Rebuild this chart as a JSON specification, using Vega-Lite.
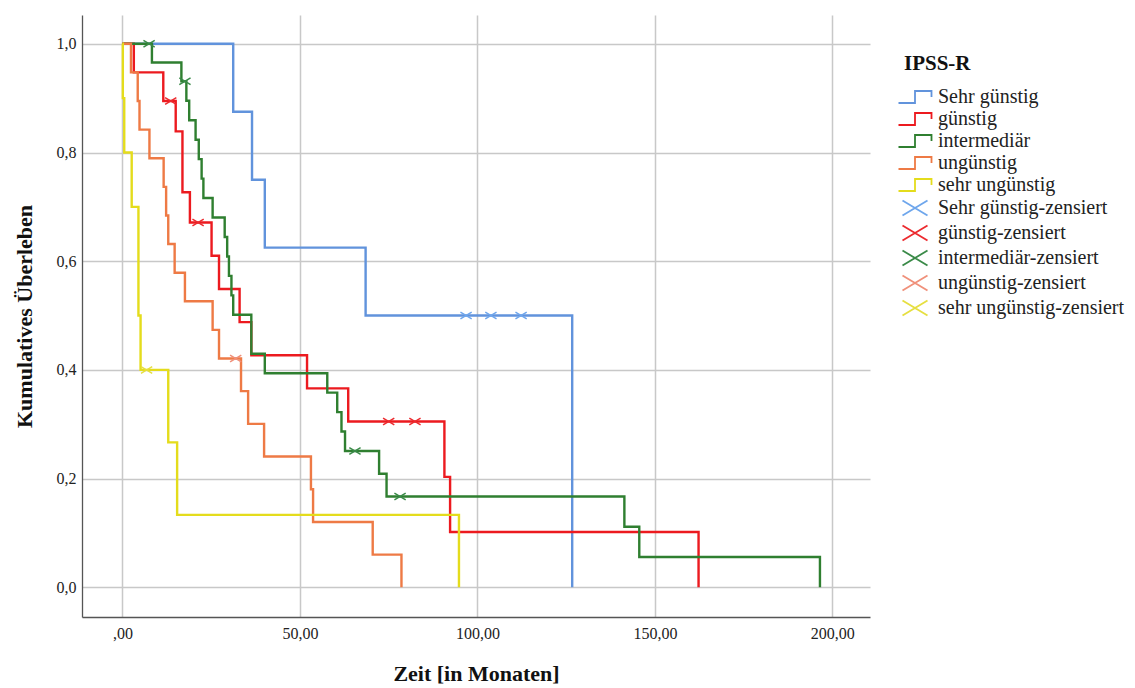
{
  "$schema": "https://vega.github.io/schema/vega-lite/v6.json",
  "width": 788,
  "height": 602,
  "autosize": {"type": "none"},
  "padding": {"left": 82, "top": 15, "right": 265, "bottom": 71},
  "background": "white",
  "config": {
    "view": {"stroke": null},
    "font": "Liberation Serif",
    "legend": {
      "orient": "none", "legendX": 822, "legendY": 38,
      "titleFont": "Liberation Serif", "titleFontSize": 21, "titleFontWeight": "bold", "titleColor": "#111", "titlePadding": 12,
      "labelFont": "Liberation Serif", "labelFontSize": 20, "labelColor": "#222", "labelOffset": 12,
      "symbolSize": 400, "symbolStrokeWidth": 1.8, "rowPadding": 1, "labelLimit": 300
    }
  },
  "datasets": {
    "curves": [
      {"label": "Sehr günstig", "t": 0, "s": 1},
      {"label": "Sehr günstig", "t": 31.2, "s": 0.875},
      {"label": "Sehr günstig", "t": 36.5, "s": 0.75},
      {"label": "Sehr günstig", "t": 40.1, "s": 0.625},
      {"label": "Sehr günstig", "t": 68.5, "s": 0.5},
      {"label": "Sehr günstig", "t": 126.7, "s": 0},
      {"label": "günstig", "t": 0, "s": 1},
      {"label": "günstig", "t": 3.2, "s": 0.9474},
      {"label": "günstig", "t": 11.5, "s": 0.8947},
      {"label": "günstig", "t": 15.0, "s": 0.8388},
      {"label": "günstig", "t": 16.9, "s": 0.727},
      {"label": "günstig", "t": 19.0, "s": 0.6711},
      {"label": "günstig", "t": 25.1, "s": 0.61},
      {"label": "günstig", "t": 27.2, "s": 0.549},
      {"label": "günstig", "t": 33.0, "s": 0.488},
      {"label": "günstig", "t": 36.3, "s": 0.427},
      {"label": "günstig", "t": 52.0, "s": 0.366},
      {"label": "günstig", "t": 63.6, "s": 0.305},
      {"label": "günstig", "t": 90.7, "s": 0.2033},
      {"label": "günstig", "t": 92.3, "s": 0.1017},
      {"label": "günstig", "t": 162.3, "s": 0},
      {"label": "intermediär", "t": 0, "s": 1},
      {"label": "intermediär", "t": 8.3, "s": 0.9655},
      {"label": "intermediär", "t": 16.6, "s": 0.931},
      {"label": "intermediär", "t": 18.0, "s": 0.8952},
      {"label": "intermediär", "t": 18.8, "s": 0.8594},
      {"label": "intermediär", "t": 20.6, "s": 0.8236},
      {"label": "intermediär", "t": 21.5, "s": 0.7878},
      {"label": "intermediär", "t": 22.3, "s": 0.752},
      {"label": "intermediär", "t": 22.8, "s": 0.7162},
      {"label": "intermediär", "t": 25.4, "s": 0.6804},
      {"label": "intermediär", "t": 28.8, "s": 0.6446},
      {"label": "intermediär", "t": 29.5, "s": 0.6088},
      {"label": "intermediär", "t": 30.0, "s": 0.573},
      {"label": "intermediär", "t": 30.7, "s": 0.5372},
      {"label": "intermediär", "t": 31.2, "s": 0.5014},
      {"label": "intermediär", "t": 36.3, "s": 0.4298},
      {"label": "intermediär", "t": 40.1, "s": 0.394},
      {"label": "intermediär", "t": 57.7, "s": 0.3582},
      {"label": "intermediär", "t": 60.5, "s": 0.3224},
      {"label": "intermediär", "t": 61.7, "s": 0.2866},
      {"label": "intermediär", "t": 62.7, "s": 0.2508},
      {"label": "intermediär", "t": 72.3, "s": 0.209},
      {"label": "intermediär", "t": 74.4, "s": 0.1672},
      {"label": "intermediär", "t": 141.4, "s": 0.1115},
      {"label": "intermediär", "t": 145.6, "s": 0.0557},
      {"label": "intermediär", "t": 196.5, "s": 0},
      {"label": "ungünstig", "t": 0, "s": 1},
      {"label": "ungünstig", "t": 2.4, "s": 0.9474},
      {"label": "ungünstig", "t": 4.3, "s": 0.8947},
      {"label": "ungünstig", "t": 4.8, "s": 0.8421},
      {"label": "ungünstig", "t": 7.6, "s": 0.7895},
      {"label": "ungünstig", "t": 11.6, "s": 0.7368},
      {"label": "ungünstig", "t": 12.3, "s": 0.6842},
      {"label": "ungünstig", "t": 12.9, "s": 0.6316},
      {"label": "ungünstig", "t": 14.7, "s": 0.5789},
      {"label": "ungünstig", "t": 17.6, "s": 0.5263},
      {"label": "ungünstig", "t": 25.4, "s": 0.4737},
      {"label": "ungünstig", "t": 27.2, "s": 0.4211},
      {"label": "ungünstig", "t": 33.4, "s": 0.3609},
      {"label": "ungünstig", "t": 35.4, "s": 0.3008},
      {"label": "ungünstig", "t": 39.9, "s": 0.2406},
      {"label": "ungünstig", "t": 53.1, "s": 0.1805},
      {"label": "ungünstig", "t": 53.7, "s": 0.1203},
      {"label": "ungünstig", "t": 70.5, "s": 0.0602},
      {"label": "ungünstig", "t": 78.6, "s": 0},
      {"label": "sehr ungünstig", "t": 0, "s": 1},
      {"label": "sehr ungünstig", "t": 0.1, "s": 0.9},
      {"label": "sehr ungünstig", "t": 0.5, "s": 0.8},
      {"label": "sehr ungünstig", "t": 2.6, "s": 0.7},
      {"label": "sehr ungünstig", "t": 4.5, "s": 0.5},
      {"label": "sehr ungünstig", "t": 5.1, "s": 0.4},
      {"label": "sehr ungünstig", "t": 12.9, "s": 0.2667},
      {"label": "sehr ungünstig", "t": 15.4, "s": 0.1333},
      {"label": "sehr ungünstig", "t": 94.8, "s": 0}
    ],
    "censor": [
      {"label": "Sehr günstig-zensiert", "t": 96.8, "s": 0.5},
      {"label": "Sehr günstig-zensiert", "t": 103.8, "s": 0.5},
      {"label": "Sehr günstig-zensiert", "t": 112.3, "s": 0.5},
      {"label": "günstig-zensiert", "t": 13.6, "s": 0.8947},
      {"label": "günstig-zensiert", "t": 21.3, "s": 0.6711},
      {"label": "günstig-zensiert", "t": 75.0, "s": 0.305},
      {"label": "günstig-zensiert", "t": 82.4, "s": 0.305},
      {"label": "intermediär-zensiert", "t": 7.5, "s": 1},
      {"label": "intermediär-zensiert", "t": 17.6, "s": 0.931},
      {"label": "intermediär-zensiert", "t": 65.5, "s": 0.2508},
      {"label": "intermediär-zensiert", "t": 78.2, "s": 0.1672},
      {"label": "ungünstig-zensiert", "t": 31.9, "s": 0.4211},
      {"label": "sehr ungünstig-zensiert", "t": 6.8, "s": 0.4}
    ]
  },
  "layer": [
    {
      "data": {"name": "curves"},
      "mark": {"type": "line", "interpolate": "step-after", "strokeWidth": 2.4},
      "encoding": {
        "x": {
          "field": "t", "type": "quantitative",
          "scale": {"domain": [-11.4, 210.6], "nice": false, "zero": false},
          "axis": {
            "values": [0, 50, 100, 150, 200],
            "labelExpr": "datum.value == 0 ? ',00' : replace(format(datum.value, '.2f'), '.', ',')",
            "title": "Zeit [in Monaten]",
            "titleFont": "Liberation Serif", "titleFontSize": 22, "titleFontWeight": "bold", "titleColor": "#111",
            "titlePadding": 22,
            "labelFont": "Liberation Serif", "labelFontSize": 16, "labelColor": "#222", "labelPadding": 8,
            "ticks": false, "domainColor": "#555", "domainWidth": 1.3,
            "grid": true, "gridColor": "#c8c8c8", "gridWidth": 1.5
          }
        },
        "y": {
          "field": "s", "type": "quantitative",
          "scale": {"domain": [-0.0546, 1.053], "nice": false, "zero": false},
          "axis": {
            "values": [0, 0.2, 0.4, 0.6, 0.8, 1],
            "labelExpr": "replace(format(datum.value, '.1f'), '.', ',')",
            "title": "Kumulatives Überleben",
            "titleFont": "Liberation Serif", "titleFontSize": 22, "titleFontWeight": "bold", "titleColor": "#111",
            "titlePadding": 20,
            "labelFont": "Liberation Serif", "labelFontSize": 16, "labelColor": "#222", "labelPadding": 6,
            "ticks": false, "domainColor": "#555", "domainWidth": 1.3,
            "grid": true, "gridColor": "#c8c8c8", "gridWidth": 1.5
          }
        },
        "color": {
          "field": "label", "type": "nominal", "title": "IPSS-R",
          "scale": {
            "domain": ["Sehr günstig", "günstig", "intermediär", "ungünstig", "sehr ungünstig", "Sehr günstig-zensiert", "günstig-zensiert", "intermediär-zensiert", "ungünstig-zensiert", "sehr ungünstig-zensiert"],
            "range": ["#6193dc", "#ec1a1f", "#2f7f30", "#ee7a45", "#e4dc1c", "#6ea6ec", "#ec2a2e", "#3a8a48", "#f0907a", "#e6df40"]
          },
          "legend": {"titleFont": "Liberation Serif", "titleFontWeight": "bold", "titleFontSize": 21}
        }
      }
    },
    {
      "data": {"name": "censor"},
      "mark": {"type": "point", "filled": false, "strokeWidth": 1.5, "size": 81, "opacity": 1},
      "encoding": {
        "x": {"field": "t", "type": "quantitative"},
        "y": {"field": "s", "type": "quantitative"},
        "color": {"field": "label", "type": "nominal", "title": "IPSS-R",
          "legend": {"titleFont": "Liberation Serif", "titleFontWeight": "bold", "titleFontSize": 21}},
        "shape": {
          "field": "label", "type": "nominal", "title": "IPSS-R",
          "legend": {"titleFont": "Liberation Serif", "titleFontWeight": "bold", "titleFontSize": 21},
          "scale": {
            "domain": ["Sehr günstig", "günstig", "intermediär", "ungünstig", "sehr ungünstig", "Sehr günstig-zensiert", "günstig-zensiert", "intermediär-zensiert", "ungünstig-zensiert", "sehr ungünstig-zensiert"],
            "range": ["M-1.65,0.6H0V-0.6H1.65V0", "M-1.65,0.6H0V-0.6H1.65V0", "M-1.65,0.6H0V-0.6H1.65V0", "M-1.65,0.6H0V-0.6H1.65V0", "M-1.65,0.6H0V-0.6H1.65V0", "M-1.25,-0.75L1.25,0.75M-1.25,0.75L1.25,-0.75", "M-1.25,-0.75L1.25,0.75M-1.25,0.75L1.25,-0.75", "M-1.25,-0.75L1.25,0.75M-1.25,0.75L1.25,-0.75", "M-1.25,-0.75L1.25,0.75M-1.25,0.75L1.25,-0.75", "M-1.25,-0.75L1.25,0.75M-1.25,0.75L1.25,-0.75"]
          }
        }
      }
    }
  ]
}
